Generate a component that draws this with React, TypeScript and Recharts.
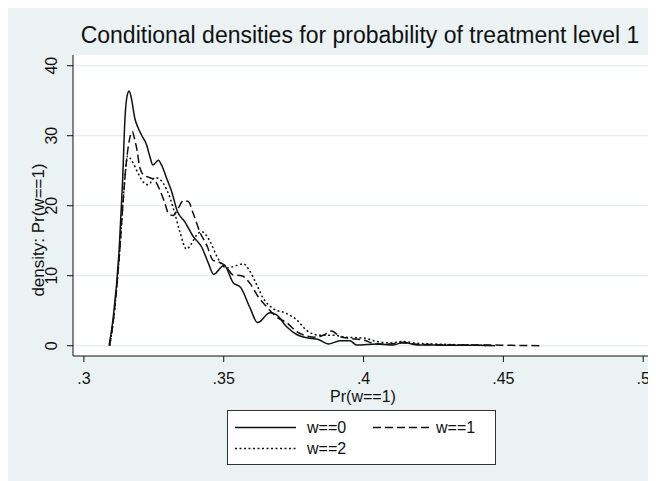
import React from 'react';
import { LineChart, Line, XAxis, YAxis, CartesianGrid } from 'recharts';

// ---- data ----
const w0X = [0.3090,0.3105,0.3126,0.3138,0.3147,0.3155,0.3162,0.3170,0.3182,0.3194,0.3206,0.3224,0.3236,0.3247,0.3266,0.3280,0.3296,0.3314,0.3334,0.3361,0.3391,0.3421,0.3445,0.3464,0.3501,0.3534,0.3561,0.3594,0.3621,0.3665,0.3689,0.3725,0.3761,0.3808,0.3838,0.3874,0.3916,0.3951,0.3975,0.4047,0.4106,0.4142,0.4190,0.4250,0.4320,0.4400,0.4470];
const w0Y = [0,4.1,13.7,23.2,32.6,35.8,36.4,35.3,32.5,31.1,30.1,28.7,27.0,25.8,26.5,25.6,23.9,22.0,19.2,17.7,15.6,14.1,11.8,10.2,11.5,9.0,8.3,5.4,3.3,4.7,4.4,2.7,1.6,1.05,0.9,0.25,0.7,0.7,0.1,0.25,0.1,0.5,0.1,0.1,0.05,0.05,0];

const w1X = [0.3092,0.3105,0.3126,0.3140,0.3150,0.3160,0.3173,0.3182,0.3191,0.3198,0.3206,0.3218,0.3236,0.3254,0.3272,0.3290,0.3302,0.3319,0.3337,0.3355,0.3373,0.3391,0.3415,0.3439,0.3462,0.3480,0.3504,0.3534,0.3564,0.3594,0.3623,0.3653,0.3689,0.3725,0.3761,0.3796,0.3832,0.3856,0.3886,0.3916,0.3951,0.3999,0.4047,0.4094,0.4142,0.4190,0.4260,0.4350,0.4440,0.4530,0.4630];
const w1Y = [0,3.5,12.5,20.5,25.5,28.8,30.6,29.4,27.7,25.8,24.8,24.3,24.0,23.6,22.2,20.3,18.9,18.6,19.6,20.7,20.6,18.9,16.2,14.4,12.2,12.0,11.5,10.1,10.0,8.9,7.0,5.6,4.1,3.3,2.0,1.4,1.2,1.5,2.1,1.3,1.05,0.8,0.25,0.25,0.4,0.2,0.15,0.1,0.1,0.05,0];

const w2X = [0.3092,0.3105,0.3126,0.3140,0.3150,0.3156,0.3165,0.3176,0.3194,0.3212,0.3230,0.3254,0.3270,0.3284,0.3308,0.3325,0.3343,0.3367,0.3385,0.3403,0.3421,0.3451,0.3475,0.3510,0.3534,0.3570,0.3594,0.3618,0.3641,0.3677,0.3725,0.3761,0.3796,0.3844,0.3892,0.3940,0.3999,0.4047,0.4094,0.4142,0.4190,0.4250,0.4330,0.4400,0.4450];
const w2Y = [0,3.5,12.5,20.5,25.5,27.1,26.8,26.1,24.6,23.4,23.0,24.0,23.8,23.2,21.1,18.9,16.3,13.8,14.6,15.8,16.3,14.9,12.8,11.1,11.3,11.7,10.6,8.7,6.8,5.3,4.6,3.7,2.2,1.5,1.5,1.2,1.1,0.6,0.4,0.6,0.35,0.25,0.15,0.1,0];

const xTicks = [0.3, 0.35, 0.4, 0.45, 0.5];
const xTickLabels = ['.3', '.35', '.4', '.45', '.5'];
const yTicks = [0, 10, 20, 30, 40];
const seriesNames = ['w==0', 'w==1', 'w==2'];
const titleText = 'Conditional densities for probability of treatment level 1';
const xTitle = 'Pr(w==1)';
const yTitle = 'density: Pr(w==1)';

const zip = (xs: number[], ys: number[]) => xs.map((x, i) => ({ x, y: ys[i] }));
const d0 = zip(w0X, w0Y);
const d1 = zip(w1X, w1Y);
const d2 = zip(w2X, w2Y);

const W = 648;
const H = 473;
const FONT = '"Liberation Sans", Arial, Helvetica, sans-serif';
const BG = '#eaf2f3';
const INK = '#111';

const XTick = (props: any) => {
  const { x, y, payload } = props;
  const i = xTicks.indexOf(payload.value);
  return (
    <text x={x} y={y} dy={22} textAnchor="middle" fontSize={16} fontFamily={FONT} fill={INK}>
      {i >= 0 ? xTickLabels[i] : String(payload.value)}
    </text>
  );
};

const YTick = (props: any) => {
  const { x, y, payload } = props;
  return (
    <g transform={`translate(${x},${y})`}>
      <text transform="rotate(-90)" x={0} y={-10} textAnchor="middle" fontSize={16} fontFamily={FONT} fill={INK}>
        {payload.value}
      </text>
    </g>
  );
};

const dashFor = ['', '8 4', '2 2.5'];

export default function App() {
  return (
    <div style={{ position: 'relative', width: W, height: H, background: BG }}>
      <LineChart
        width={W}
        height={H}
        margin={{ top: 47, right: 3, left: 0, bottom: 85 }}
        style={{ position: 'absolute', left: 0, top: 0 }}
      >
        <CartesianGrid vertical={false} horizontal={true} fill="#ffffff" stroke="#e2e8e8" strokeWidth={1} horizontalValues={yTicks} />
        <XAxis
          type="number"
          dataKey="x"
          domain={[0.2961, 0.5035]}
          allowDataOverflow
          ticks={xTicks}
          interval={0}
          height={40}
          tickSize={6}
          tickMargin={0}
          tick={<XTick />}
          stroke={INK}
          axisLine={{ stroke: INK, strokeWidth: 1 }}
          tickLine={{ stroke: INK, strokeWidth: 1 }}
        />
        <YAxis
          type="number"
          dataKey="y"
          domain={[-1.47, 41.53]}
          allowDataOverflow
          ticks={yTicks}
          interval={0}
          width={65}
          tickSize={6}
          tickMargin={0}
          tick={<YTick />}
          stroke={INK}
          axisLine={{ stroke: INK, strokeWidth: 1 }}
          tickLine={{ stroke: INK, strokeWidth: 1 }}
        />
        <Line data={d0} dataKey="y" name={seriesNames[0]} type="monotone" stroke={INK} strokeWidth={1.5} dot={false} isAnimationActive={false} />
        <Line data={d1} dataKey="y" name={seriesNames[1]} type="monotone" stroke={INK} strokeWidth={1.5} strokeDasharray={dashFor[1]} dot={false} isAnimationActive={false} />
        <Line data={d2} dataKey="y" name={seriesNames[2]} type="monotone" stroke={INK} strokeWidth={1.5} strokeDasharray={dashFor[2]} dot={false} isAnimationActive={false} />
      </LineChart>
      <svg width={W} height={H} style={{ position: 'absolute', left: 0, top: 0, pointerEvents: 'none' }} fontFamily={FONT}>
        <text x={352} y={35} textAnchor="middle" fontSize={23} fill={INK}>{titleText}</text>
        <text x={355} y={394} textAnchor="middle" fontSize={16} fill={INK}>{xTitle}</text>
        <text transform="translate(36,222) rotate(-90)" x={0} y={0} textAnchor="middle" fontSize={17} fill={INK}>{yTitle}</text>
        <g transform="translate(219,402)">
          <rect x={0.5} y={0.5} width={268} height={54} fill="#ffffff" stroke="#333" strokeWidth={1} />
          <line x1={8} x2={69} y1={17.5} y2={17.5} stroke={INK} strokeWidth={1.4} />
          <text x={80} y={23} fontSize={16} fill={INK}>{seriesNames[0]}</text>
          <line x1={146} x2={204} y1={17.5} y2={17.5} stroke={INK} strokeWidth={1.4} strokeDasharray={dashFor[1]} />
          <text x={209} y={23} fontSize={16} fill={INK}>{seriesNames[1]}</text>
          <line x1={8} x2={69} y1={38.5} y2={38.5} stroke={INK} strokeWidth={1.4} strokeDasharray={dashFor[2]} />
          <text x={80} y={44} fontSize={16} fill={INK}>{seriesNames[2]}</text>
        </g>
      </svg>
    </div>
  );
}
